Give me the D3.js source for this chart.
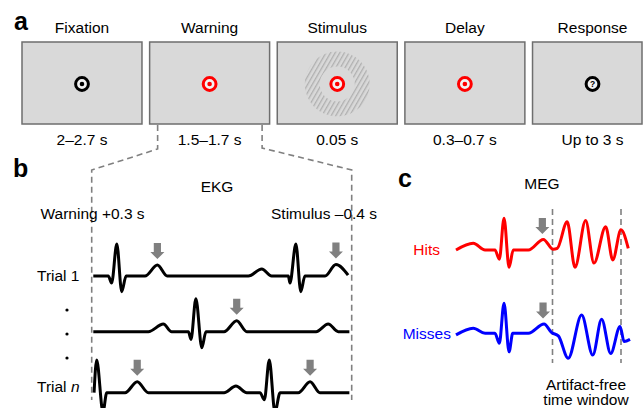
<!DOCTYPE html>
<html>
<head>
<meta charset="utf-8">
<script src="https://cdn.jsdelivr.net/npm/d3@7"></script>
<style>
  html, body { margin: 0; padding: 0; background: #fff; }
  svg { display: block; font-family: "Liberation Sans", Arial, sans-serif; }
</style>
</head>
<body>
<svg id="fig" width="643" height="408"></svg>
<script>
// ---- data ----
const stages = ['Fixation', 'Warning', 'Stimulus', 'Delay', 'Response'];
const durations = ['2–2.7 s', '1.5–1.7 s', '0.05 s', '0.3–0.7 s', 'Up to 3 s'];

// EKG traces: [time (% of window), amplitude (a.u., R peak = 1)]
const trials = ['Trial 1', 'Trial 2', 'Trial n'];
const ekgTrial1 = [[0, 0], [5.8, 0], [7.1, -0.22], [9.1, 1], [11, -0.49], [12.7, 0], [20, 0], [24.8, 0.34],
  [28.6, 0], [60, 0], [65.2, 0.22], [69, 0], [75.5, 0], [76.1, -0.22], [78.4, 1], [80.3, -0.49], [81.9, 0],
  [89.7, 0], [93.9, 0.36], [98.6, 0.03]];
const ekgTrial2 = [[0, 0], [21.3, 0], [27.1, 0.24], [30.3, 0], [36.8, 0], [37.8, -0.24], [39.7, 1.03],
  [42, -0.5], [43.6, 0], [50.6, 0], [55.5, 0.34], [59.4, 0], [86.2, 0], [90.9, 0.24], [94.8, 0], [99.1, 0]];
const ekgTrialN = [[0.3, 0], [1.3, 1.02], [3.75, -0.6], [5.2, 0], [12.3, 0], [17, 0.34], [21.3, 0], [50.6, 0],
  [55.2, 0.21], [59.4, 0], [64.5, 0], [66.2, -0.22], [68.1, 1.02], [70.3, -0.6], [72.3, 0], [79.3, 0],
  [83.9, 0.34], [87.7, 0], [99.1, 0]];
const ekgArrows = [[24.8, 93.9], [55.5], [17, 83.9]];

// MEG traces
const megGroups = ['Hits', 'Misses'];
const megHits = [[0, 0], [9.9, 0.21], [16.7, 0], [22.4, 0], [24.9, -0.29], [27.6, 0.99], [30.5, -0.54],
  [32.9, 0], [41.6, 0], [50.2, 0.33], [55.9, 0.02], [58.2, 0.05], [63.9, 0.88], [68.4, -0.54], [74.5, 0.92],
  [79.3, -0.41], [86, 0.73], [90.1, -0.31], [94.8, 0.63], [99, 0.05]];
const megMisses = [[0, -0.05], [9.9, 0.16], [16.7, 0], [22.4, 0], [24.9, -0.31], [27.6, 0.94], [30.5, -0.58],
  [32.6, 0], [41.6, 0], [50.6, 0.29], [55, 0.02], [58.8, -0.08], [64.5, -0.78], [72.2, 0.57], [78.6, -0.68],
  [83.7, 0.44], [88.9, -0.63], [94.3, 0.21], [96.6, -0.26], [100, -0.19]];
const megArrows = [[50.2], [50.6]];

// ---- drawing ----
const W = 643, H = 408;
const svg = d3.select('#fig');
const FS = 15.5;
const grey = '#808080';

const defs = svg.append('defs');
const pat = defs.append('pattern')
  .attr('id', 'hatch').attr('patternUnits', 'userSpaceOnUse')
  .attr('width', 4).attr('height', 10)
  .attr('patternTransform', 'rotate(30)');
pat.append('rect').attr('width', 4).attr('height', 10).attr('fill', '#d9d9d9');
pat.append('rect').attr('width', 1.3).attr('height', 10).attr('fill', '#b0b0b0');

function label(txt, x, y) {
  svg.append('text').attr('x', x).attr('y', y).attr('font-size', 25).attr('font-weight', 'bold').text(txt);
}

// panel a: trial structure
label('a', 14, 29.5);
const bx = d3.scaleBand().domain(stages).range([22, 652.5]).paddingInner(0.06);
const boxTop = 42, boxH = 82;
const cy = boxTop + boxH / 2 + 1;

const boxes = svg.append('g').selectAll('g').data(stages).join('g');
boxes.append('rect')
  .attr('x', d => bx(d)).attr('y', boxTop)
  .attr('width', d => Math.min(bx.bandwidth(), W - 1 - bx(d)))
  .attr('height', boxH)
  .attr('fill', '#d9d9d9').attr('stroke', '#6e6e6e').attr('stroke-width', 1.5);
boxes.append('text')
  .attr('x', d => bx(d) + bx.bandwidth() / 2).attr('y', 33)
  .attr('text-anchor', 'middle').attr('font-size', FS).text(d => d);
boxes.append('text')
  .attr('x', d => bx(d) + bx.bandwidth() / 2).attr('y', 145)
  .attr('text-anchor', 'middle').attr('font-size', FS).text((d, i) => durations[i]);

boxes.each(function (d) {
  const g = d3.select(this);
  const cx = bx(d) + bx.bandwidth() / 2;
  if (d === 'Stimulus') {
    const p = d3.path();
    p.arc(cx, cy, 32.5, 0, 2 * Math.PI); p.closePath();
    p.moveTo(cx + 17.5, cy); p.arc(cx, cy, 17.5, 0, 2 * Math.PI); p.closePath();
    g.append('path').attr('d', p.toString()).attr('fill', 'url(#hatch)').attr('fill-rule', 'evenodd');
  }
  const col = (d === 'Fixation' || d === 'Response') ? '#000' : '#f00';
  g.append('circle').attr('cx', cx).attr('cy', cy).attr('r', 6.4)
    .attr('fill', '#f2f2f2').attr('stroke', col).attr('stroke-width', 3);
  if (d === 'Response') {
    g.append('text').attr('x', cx).attr('y', cy + 3).attr('text-anchor', 'middle')
      .attr('font-size', 8.5).attr('font-weight', 'bold').text('?');
  } else {
    g.append('circle').attr('cx', cx).attr('cy', cy).attr('r', 2.3).attr('fill', col);
  }
});

// zoom lines from warning box to panel b
const dash = { stroke: grey, 'stroke-width': 1.6, 'stroke-dasharray': '6,4', fill: 'none' };
function dashed(pts) {
  const el = svg.append('path').attr('d', d3.line()(pts));
  Object.entries(dash).forEach(([k, v]) => el.attr(k, v));
}
const wl = bx('Warning');
dashed([[wl + 8, boxTop + boxH + 1], [wl + 8, 149], [91.7, 170], [91.7, 400]]);
dashed([[wl + bx.bandwidth() - 7.5, boxTop + boxH + 1], [wl + bx.bandwidth() - 7.5, 148], [351.7, 170], [351.7, 400]]);

// panel b: EKG
label('b', 13, 177);
svg.append('text').attr('x', 217).attr('y', 192).attr('text-anchor', 'middle').attr('font-size', FS).text('EKG');
svg.append('text').attr('x', 40.5).attr('y', 219).attr('font-size', FS).text('Warning +0.3 s');
svg.append('text').attr('x', 377).attr('y', 219).attr('text-anchor', 'end').attr('font-size', FS).text('Stimulus –0.4 s');

const ex = d3.scaleLinear().domain([0, 100]).range([93.3, 351.7]);
const amp = d3.scaleLinear().domain([0, 1]).range([0, -32]);
const ty = d3.scaleOrdinal().domain(trials).range([276, 331.7, 392.7]);
const ekgData = [ekgTrial1, ekgTrial2, ekgTrialN];

function arrow(x, tipY) {
  const p = `M${x - 3.6},${tipY - 16} L${x + 3.6},${tipY - 16} L${x + 3.6},${tipY - 7} L${x + 7},${tipY - 7}
    L${x},${tipY} L${x - 7},${tipY - 7} L${x - 3.6},${tipY - 7} Z`;
  svg.append('path').attr('d', p).attr('fill', grey);
}
function findAmp(series, t) {
  return series.reduce((a, b) => Math.abs(b[0] - t) < Math.abs(a[0] - t) ? b : a)[1];
}

trials.forEach((tr, i) => {
  const base = ty(tr);
  const line = d3.line().x(d => ex(d[0])).y(d => base + amp(d[1])).curve(d3.curveMonotoneX);
  svg.append('path').attr('d', line(ekgData[i])).attr('fill', 'none')
    .attr('stroke', '#000').attr('stroke-width', 3).attr('stroke-linejoin', 'round');
  ekgArrows[i].forEach(t => arrow(ex(t), base + amp(findAmp(ekgData[i], t)) - 6));
});

svg.append('text').attr('x', 37).attr('y', 280.5).attr('font-size', FS).text('Trial 1');
const tn = svg.append('text').attr('x', 37).attr('y', 391.7).attr('font-size', FS).text('Trial ');
tn.append('tspan').attr('font-style', 'italic').text('n');
svg.append('g').selectAll('circle').data([310, 334, 358]).join('circle')
  .attr('cx', 67).attr('cy', d => d).attr('r', 1.6).attr('fill', '#000');

// panel c: MEG
label('c', 398, 187);
svg.append('text').attr('x', 542).attr('y', 189).attr('text-anchor', 'middle').attr('font-size', FS).text('MEG');

const mx = d3.scaleLinear().domain([0, 100]).range([456, 630]);
const my = d3.scaleOrdinal().domain(megGroups).range([250, 333.3]);
const megCol = { Hits: '#ff0000', Misses: '#0000ff' };
const megData = [megHits, megMisses];

[552.5, 621].forEach(x => dashed([[x, 209], [x, 363]]));

megGroups.forEach((gname, i) => {
  const base = my(gname);
  const line = d3.line().x(d => mx(d[0])).y(d => base + amp(d[1])).curve(d3.curveMonotoneX);
  svg.append('path').attr('d', line(megData[i])).attr('fill', 'none')
    .attr('stroke', megCol[gname]).attr('stroke-width', 3).attr('stroke-linejoin', 'round');
  megArrows[i].forEach(t => arrow(mx(t) - 1, base + amp(findAmp(megData[i], t)) - 5.5));
});
svg.append('text').attr('x', 413.3).attr('y', 255).attr('font-size', FS).attr('fill', megCol.Hits).text('Hits');
svg.append('text').attr('x', 402.7).attr('y', 338.5).attr('font-size', FS).attr('fill', megCol.Misses).text('Misses');

svg.append('text').attr('x', 586).attr('y', 389.5).attr('text-anchor', 'middle').attr('font-size', FS).text('Artifact-free');
svg.append('text').attr('x', 586).attr('y', 405).attr('text-anchor', 'middle').attr('font-size', FS).text('time window');
</script>
</body>
</html>
